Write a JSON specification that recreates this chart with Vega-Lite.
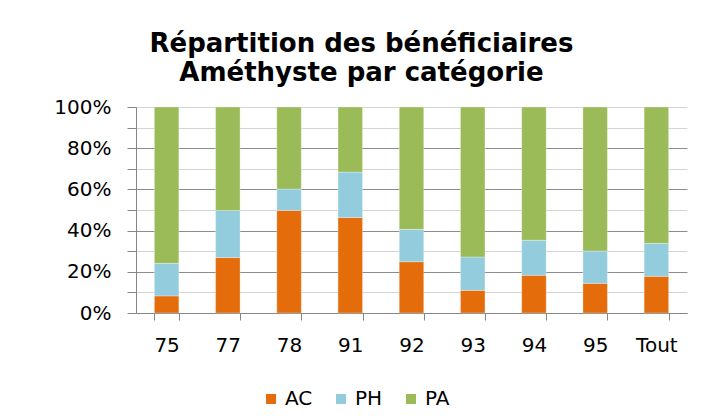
{
  "$schema": "https://vega.github.io/schema/vega-lite/v6.json",
  "width": 551,
  "height": 206,
  "autosize": {"type": "none"},
  "padding": {"left": 136, "top": 107, "right": 17, "bottom": 106},
  "background": "white",
  "title": {
    "text": ["Répartition des bénéficiaires", "Améthyste par catégorie"],
    "font": "DejaVu Sans",
    "fontSize": 26,
    "fontWeight": "bold",
    "color": "#000000",
    "anchor": "middle",
    "frame": "bounds",
    "offset": 11,
    "lineHeight": 29,
    "dx": -9
  },
  "data": {
    "values": [
      {"dept": "75", "cat": "AC", "value": 8.3},
      {"dept": "75", "cat": "PH", "value": 15.8},
      {"dept": "75", "cat": "PA", "value": 75.9},
      {"dept": "77", "cat": "AC", "value": 26.9},
      {"dept": "77", "cat": "PH", "value": 22.9},
      {"dept": "77", "cat": "PA", "value": 50.2},
      {"dept": "78", "cat": "AC", "value": 49.8},
      {"dept": "78", "cat": "PH", "value": 10.4},
      {"dept": "78", "cat": "PA", "value": 39.8},
      {"dept": "91", "cat": "AC", "value": 46.4},
      {"dept": "91", "cat": "PH", "value": 22.0},
      {"dept": "91", "cat": "PA", "value": 31.6},
      {"dept": "92", "cat": "AC", "value": 24.9},
      {"dept": "92", "cat": "PH", "value": 15.7},
      {"dept": "92", "cat": "PA", "value": 59.4},
      {"dept": "93", "cat": "AC", "value": 11.0},
      {"dept": "93", "cat": "PH", "value": 16.2},
      {"dept": "93", "cat": "PA", "value": 72.8},
      {"dept": "94", "cat": "AC", "value": 18.3},
      {"dept": "94", "cat": "PH", "value": 17.0},
      {"dept": "94", "cat": "PA", "value": 64.7},
      {"dept": "95", "cat": "AC", "value": 14.4},
      {"dept": "95", "cat": "PH", "value": 15.7},
      {"dept": "95", "cat": "PA", "value": 69.9},
      {"dept": "Tout", "cat": "AC", "value": 17.8},
      {"dept": "Tout", "cat": "PH", "value": 16.0},
      {"dept": "Tout", "cat": "PA", "value": 66.2}
    ]
  },
  "transform": [
    {"calculate": "indexof(['AC', 'PH', 'PA'], datum.cat)", "as": "stackOrder"}
  ],
  "mark": {"type": "bar", "stroke": "#ffffff", "strokeOpacity": 0.5, "strokeWidth": 0.6},
  "encoding": {
    "x": {
      "field": "dept",
      "type": "nominal",
      "sort": null,
      "scale": {"paddingInner": 0.6, "paddingOuter": 0.3},
      "axis": {
        "title": null,
        "labelAngle": 0,
        "tickBand": "extent",
        "tickSize": 7,
        "tickColor": "#868686",
        "domainColor": "#868686",
        "labelFont": "DejaVu Sans",
        "labelFontSize": 20,
        "labelColor": "#000000",
        "labelPadding": 15,
        "grid": false
      }
    },
    "y": {
      "field": "value",
      "type": "quantitative",
      "stack": "normalize",
      "scale": {"domain": [0, 1], "nice": false},
      "axis": {
        "title": null,
        "format": ".0%",
        "values": [0, 0.1, 0.2, 0.3, 0.4, 0.5, 0.6, 0.7, 0.8, 0.9, 1],
        "labelExpr": "round(datum.value * 100) % 20 == 0 ? datum.label : ''",
        "tickSize": 9,
        "tickColor": "#868686",
        "domainColor": "#868686",
        "grid": true,
        "gridColor": {
          "condition": {"test": "round(datum.value * 100) % 20 == 0 && datum.value < 0.99", "value": "#8c8c8c"},
          "value": "#d4d4d4"
        },
        "labelFont": "DejaVu Sans",
        "labelFontSize": 20,
        "labelColor": "#000000",
        "labelPadding": 16
      }
    },
    "color": {
      "field": "cat",
      "type": "nominal",
      "sort": ["AC", "PH", "PA"],
      "scale": {"domain": ["AC", "PH", "PA"], "range": ["#e46c0a", "#93cddd", "#9bbb59"]},
      "legend": {
        "title": null,
        "orient": "none",
        "legendX": 125,
        "legendY": 282,
        "direction": "horizontal",
        "symbolType": "square",
        "symbolSize": 100,
        "symbolStrokeWidth": 0,
        "labelFont": "DejaVu Sans",
        "labelFontSize": 20,
        "labelColor": "#000000",
        "columnPadding": 18
      }
    },
    "order": {"field": "stackOrder", "type": "quantitative", "sort": "ascending"}
  },
  "config": {
    "view": {"stroke": null},
    "axis": {"domainWidth": 1, "tickWidth": 1, "gridWidth": 1}
  }
}
